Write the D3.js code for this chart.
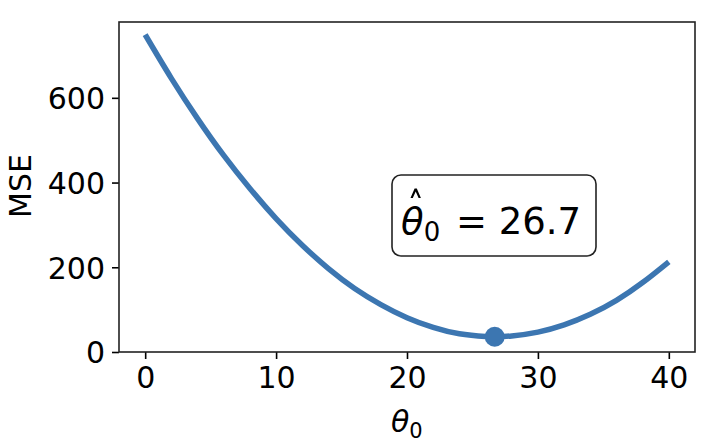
<!DOCTYPE html>
<html><head><meta charset="utf-8">
<script src="https://cdn.jsdelivr.net/npm/d3@7"></script>
<style>body{margin:0;background:#fff}svg{display:block}text{font-family:"DejaVu Sans",sans-serif;fill:#000}</style>
</head><body>
<script>
const thetaValues = [0,2,4,6,8,10,12,14,16,18,20,22,24,26,26.7,28,30,32,34,36,38,40];
const mseValues   = [749,646,551,464,386,315,252,197,150,112,81,58,43,36.5,36,38,47,64,89,122,164,213];
const thetaHat = 26.7;
const mseMin = 36;
const xTicks = [0,10,20,30,40];
const yTicks = [0,200,400,600];

const W=724,H=444;
const m={l:119,t:22,r:695,b:352};
const svg=d3.select("body").append("svg").attr("width",W).attr("height",H);
const x=d3.scaleLinear().domain([-2,42]).range([m.l,m.r]);
const y=d3.scaleLinear().domain([0,779]).range([m.b,m.t]);
const col="#3c76b1";

const line=d3.line().x((d,i)=>x(thetaValues[i])).y(d=>y(d)).curve(d3.curveNatural);
svg.append("path").datum(mseValues).attr("d",line).attr("fill","none").attr("stroke",col).attr("stroke-width",5.5).attr("stroke-linecap","butt");
svg.append("circle").attr("cx",x(thetaHat)).attr("cy",y(mseMin)).attr("r",10).attr("fill",col);

// axes
const xa=svg.append("g").attr("transform",`translate(0,${m.b})`).call(d3.axisBottom(x).tickValues(xTicks).tickSize(7).tickPadding(7).tickFormat(d3.format("d")));
const ya=svg.append("g").attr("transform",`translate(${m.l},0)`).call(d3.axisLeft(y).tickValues(yTicks).tickSize(7).tickPadding(7).tickFormat(d3.format("d")));
[xa,ya].forEach(g=>{g.select(".domain").remove();g.selectAll(".tick line").attr("stroke","#000").attr("stroke-width",1.6);g.selectAll("text").attr("font-size",30).attr("font-family","DejaVu Sans").attr("fill","#000");});
ya.selectAll("text").attr("dy","0.36em");
xa.selectAll("text").attr("dy","0.74em");
svg.append("rect").attr("x",m.l).attr("y",m.t).attr("width",m.r-m.l).attr("height",m.b-m.t).attr("fill","none").attr("stroke","#222").attr("stroke-width",1.6);

// axis labels
const xl=svg.append("text").attr("x",391).attr("y",432).attr("font-size",30);
xl.append("tspan").attr("font-style","italic").text("θ");
xl.append("tspan").attr("font-size",21).attr("dy",6).text("0");
svg.append("text").attr("transform","translate(31,186) rotate(-90)").attr("text-anchor","middle").attr("font-size",30).text("MSE");

// annotation box
svg.append("rect").attr("x",392).attr("y",175).attr("width",204).attr("height",81).attr("rx",9).attr("fill","#fff").attr("stroke","#222").attr("stroke-width",1.6);
const at=svg.append("text").attr("x",401).attr("y",234).attr("font-size",37);
at.append("tspan").attr("font-style","italic").text("θ");
at.append("tspan").attr("font-size",26).attr("dy",7).text("0");
at.append("tspan").attr("x",456).attr("dy",-7).text("=\u00a026.7");
// hat accent over theta
svg.append("path").attr("d","M410.5,198 L414.6,188.5 L416.8,188.5 L420.9,198 L418.6,198 L415.7,191.5 L412.8,198 Z").attr("fill","#000");
</script>
</body></html>
